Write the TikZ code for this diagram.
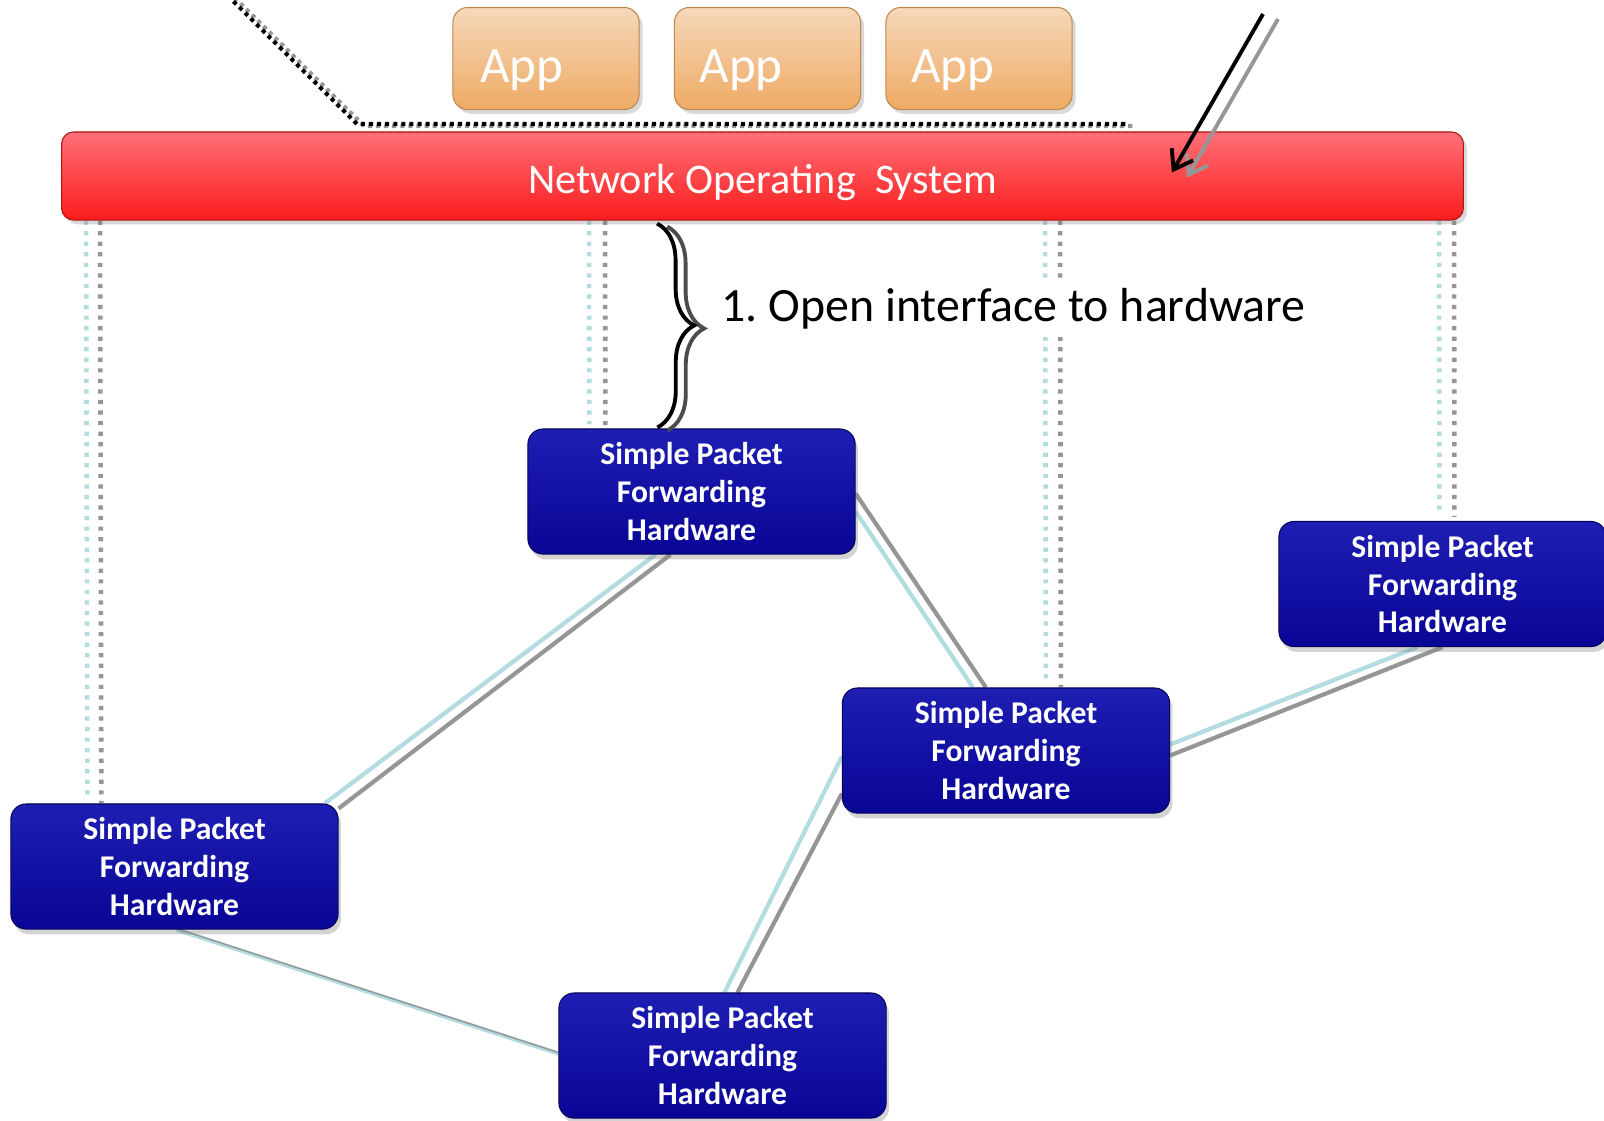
\documentclass[tikz,border=0pt]{standalone}
\usepackage{fontspec}
\setmainfont{Carlito}
\usetikzlibrary{calc}
\usetikzlibrary{shadows}
\usetikzlibrary{arrows.meta}
\usetikzlibrary{decorations.pathreplacing}
\usetikzlibrary{backgrounds}

\definecolor{nostop}{RGB}{255,112,120}
\definecolor{nosbot}{RGB}{250,28,28}
\definecolor{apptop}{RGB}{246,216,186}
\definecolor{appbot}{RGB}{238,170,100}
\definecolor{hwtop}{RGB}{30,30,178}
\definecolor{hwbot}{RGB}{9,6,150}
\definecolor{linkblue}{RGB}{178,220,224}
\definecolor{linkgray}{RGB}{150,150,150}

\begin{document}
\begin{tikzpicture}[x=0.01cm, y=-0.01cm]

    \tikzset{
        nosbar/.style={rounded corners=3.4pt, draw=nosbot!70!black, line width=0.3pt,
            top color=nostop, bottom color=nosbot, minimum width=14.01cm, minimum height=0.88cm,
            inner sep=0pt, text=white, font=\fontsize{12}{14}\selectfont,
            text height=12.3pt, text depth=2.3pt,
            drop shadow={opacity=0.3, shadow xshift=1pt, shadow yshift=-1.2pt}},
        appbox/.style={rounded corners=4.2pt, draw=appbot!80!black, line width=0.3pt,
            top color=apptop, bottom color=appbot, minimum width=1.86cm, minimum height=1.02cm,
            inner sep=0pt, drop shadow={opacity=0.3, shadow xshift=1pt, shadow yshift=-1.2pt}},
        apptag/.style={anchor=base west, inner sep=0pt, text=white, font=\fontsize{14.5}{17}\selectfont},
        hwbox/.style={rounded corners=4.3pt, draw=hwbot!60!black, line width=0.3pt,
            top color=hwtop, middle color=hwbot, bottom color=hwbot, minimum width=3.27cm, minimum height=1.25cm,
            inner sep=0pt, text=white, align=center, font=\fontsize{9}{10.8}\selectfont\bfseries,
            drop shadow={opacity=0.35, shadow xshift=0.8pt, shadow yshift=-1.5pt}},
        vblue/.style={draw=linkblue, line width=1.3pt, dash pattern=on 1.2pt off 1.8pt},
        vgray/.style={draw=linkgray, line width=1.3pt, dash pattern=on 1.2pt off 1.8pt},
        lblue/.style={draw=linkblue, line width=1.2pt},
        lgray/.style={draw=linkgray, line width=1.2pt},
        dotline/.style={line width=1.15pt, dash pattern=on 1.15pt off 1.15pt},
        callarrow/.style={line width=1.1pt, -{Straight Barb[length=5pt, width=7pt]}},
        bracedraw/.style={line width=1.1pt, decorate, decoration={brace, amplitude=10.5pt}}
    }

    \useasboundingbox (0,0) rectangle (1604,1120);

    % operating system and apps
    \node [nosbar] (nos) at (762.5,176) {Network Operating\ \ System};
    \node [appbox] (app1) at (546,58.5) {};
    \node [appbox] (app2) at (767.5,58.5) {};
    \node [appbox] (app3) at (979,58.5) {};
        \node [apptag] (app1t) at ($(app1.west)+(27,23.5)$) {App};
        \node [apptag] (app2t) at ($(app2.west)+(25,23.5)$) {App};
        \node [apptag] (app3t) at ($(app3.west)+(25,23.5)$) {App};

    % forwarding hardware
    \node [hwbox] (hw1) at (691.5,491.5) {Simple Packet\\Forwarding\\Hardware};
    \node [hwbox] (hw2) at (1442.5,584) {Simple Packet\\Forwarding\\Hardware};
    \node [hwbox] (hw3) at (1006,750.5) {Simple Packet\\Forwarding\\Hardware};
    \node [hwbox] (hw4) at (174.5,866.5) {Simple Packet\\Forwarding\\Hardware};
    \node [hwbox] (hw5) at (722.5,1055.5) {Simple Packet\\Forwarding\\Hardware};

    \begin{scope}[on background layer]
        % control channels
        \draw [vblue] ($(nos.south west)+(25,0)$) -- ($(hw4.north west)+(77,-3)$);
        \draw [vgray] ($(nos.south west)+(39,0)$) -- ($(hw4.north west)+(91,0)$);
        \draw [vblue] ($(nos.south west)+(528,0)$) -- ($(hw1.north west)+(62,-4)$);
        \draw [vgray] ($(nos.south west)+(544,0)$) -- ($(hw1.north west)+(78,0)$);
        \draw [vblue] ($(nos.south west)+(984,0)$) -- ($(hw3.north west)+(204,-3)$);
        \draw [vgray] ($(nos.south west)+(999,0)$) -- ($(hw3.north west)+(219,0)$);
        \draw [vblue] ($(nos.south west)+(1378,0)$) -- ($(hw2.north west)+(161,-6)$);
        \draw [vgray] ($(nos.south west)+(1393,0)$) -- ($(hw2.north west)+(176,-4)$);

        % data links
        \draw [lblue] ($(hw4.north east)+(-14,0)$) -- ($(hw1.south)+(-36,0)$);
        \draw [lgray] ($(hw4.north east)+(0,5)$) -- ($(hw1.south)+(-21,0)$);
        \draw [lblue] ($(hw1.east)+(0,20)$) -- ($(hw3.north west)+(131,0)$);
        \draw [lgray] ($(hw1.east)+(0,2)$) -- ($(hw3.north west)+(144,0)$);
        \draw [lblue] ($(hw3.east)+(0,-6)$) -- ($(hw2.south)+(-25,0)$);
        \draw [lgray] ($(hw3.east)+(0,5)$) -- ($(hw2.south)+(0,0)$);
        \draw [lblue] ($(hw3.west)+(0,6)$) -- ($(hw5.north)+(2,0)$);
        \draw [lgray] ($(hw3.west)+(0,43)$) -- ($(hw5.north)+(15,0)$);
        \draw [lblue] ($(hw4.south)+(2,0)$) -- ($(hw5.west)+(0,-2)$);
        \draw [linkgray, line width=0.4pt] ($(hw4.south)+(2,-1)$) -- ($(hw5.west)+(0,-3)$);
    \end{scope}

    % dotted outline above
    \coordinate (dotstart) at (222,-10);
    \coordinate (dotbend) at (357,124);
    \coordinate (dotend) at (1128,124);
    \draw [dotline, linkgray] ($(dotstart)+(7,2)$) -- ($(dotbend)+(7,2)$) -- ($(dotend)+(7,2)$);
    \draw [dotline, black] (dotstart) -- (dotbend) -- (dotend);

    % callout arrow
    \coordinate (callout) at (1263,14);
    \draw [callarrow, linkgray] ($(callout)+(15,5)$) -- ($(nos.north east)+(-277,46)$);
    \draw [callarrow, black] (callout) -- ($(nos.north east)+(-292,41)$);

    % brace
    \coordinate (bracetop) at ($(nos.south west)+(596,3)$);
    \coordinate (bracebot) at ($(hw1.north west)+(130,-1)$);
    \draw [bracedraw, black!70] ($(bracetop)+(10,3)$) -- ($(bracebot)+(10,3)$);
    \draw [bracedraw, black] (bracetop) -- (bracebot);
    \node [anchor=west, fill=white, inner xsep=0pt, inner ysep=2pt, font=\fontsize{13.6}{16}\selectfont] (ifacelbl) at (721,309) {1.\ Open interface to hardware};

\end{tikzpicture}
\end{document}
